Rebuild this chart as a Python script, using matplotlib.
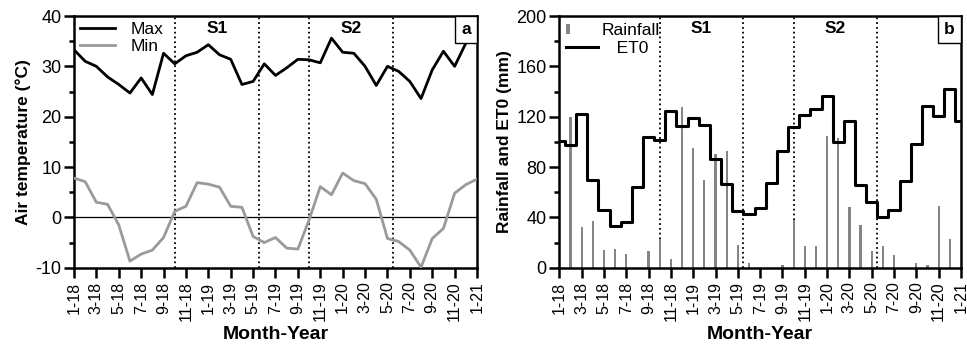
import matplotlib
matplotlib.use('Agg')
import matplotlib.pyplot as plt
import numpy as np
from matplotlib.ticker import MultipleLocator
from matplotlib.offsetbox import AnchoredText
from matplotlib.legend_handler import HandlerBase
from matplotlib.patches import Rectangle
from matplotlib.lines import Line2D

plt.rcParams['font.family'] = ['Liberation Sans', 'DejaVu Sans']
plt.rcParams['axes.unicode_minus'] = False

# month index 0 = Jan 2018 ... 36 = Jan 2021
MONTHS = np.arange(37)
TICK_POS = np.arange(0, 37, 2)
TICK_LABELS = ['1-18', '3-18', '5-18', '7-18', '9-18', '11-18',
               '1-19', '3-19', '5-19', '7-19', '9-19', '11-19',
               '1-20', '3-20', '5-20', '7-20', '9-20', '11-20', '1-21']

T_MAX = [33.3, 31.0, 30.0, 27.9, 26.4, 24.7, 27.7, 24.4, 32.6, 30.5,
         32.1, 32.8, 34.3, 32.3, 31.4, 26.4, 27.0, 30.5, 28.2, 29.7,
         31.4, 31.3, 30.7, 35.6, 32.8, 32.6, 30.0, 26.2, 30.0, 29.0,
         27.0, 23.6, 29.3, 33.0, 30.0, 34.6, 36.0]
T_MIN = [7.8, 7.1, 3.0, 2.6, -1.5, -8.7, -7.3, -6.5, -4.0, 1.2,
         2.2, 6.9, 6.6, 6.0, 2.2, 2.0, -3.8, -5.0, -4.0, -6.1,
         -6.3, -0.5, 6.1, 4.5, 8.8, 7.3, 6.7, 3.6, -4.2, -4.8,
         -6.5, -9.9, -4.2, -2.2, 4.8, 6.5, 7.6]

ET0 = [101.0, 97.5, 122.0, 70.0, 45.5, 33.0, 36.2, 64.0, 104.0, 101.3,
       124.7, 112.7, 118.6, 113.3, 86.2, 66.7, 44.7, 42.9, 47.4, 67.3,
       92.6, 112.0, 121.2, 126.5, 136.6, 100.0, 116.7, 66.0, 52.1, 40.2,
       46.0, 68.9, 98.1, 128.4, 120.7, 142.4, 116.7]
RAINFALL = [0.0, 120.0, 32.4, 36.9, 13.8, 14.6, 11.1, 0.0, 13.0, 23.1,
            6.6, 128.0, 95.0, 70.0, 90.0, 93.0, 17.8, 3.4, 0.0, 0.0,
            1.9, 38.2, 17.0, 17.0, 105.0, 103.0, 48.3, 33.7, 13.0, 17.0,
            9.8, 0.0, 3.4, 1.9, 48.8, 22.5, 0.0]

SEASON_EDGES = [9, 16.5, 21, 28.5]
SEASON_NAMES = ['S1', 'S2']
SEASON_CENTERS = [12.75, 24.75]

GRAY_LINE = '#9a9a9a'
GRAY_BAR = '#858585'


class BarHandle(HandlerBase):
    def create_artists(self, legend, orig_handle, xdescent, ydescent,
                       width, height, fontsize, trans):
        r = Rectangle((-xdescent, -ydescent + 0.1 * height), 0.13 * width, 0.8 * height,
                      facecolor=GRAY_BAR, edgecolor='none', transform=trans)
        return [r]


def style_axes(ax, ymin, ymax, major, minor):
    ax.set_xlim(0, 36)
    ax.set_ylim(ymin, ymax)
    ax.set_xticks(TICK_POS)
    ax.set_xticklabels(TICK_LABELS, rotation=90)
    ax.yaxis.set_major_locator(MultipleLocator(major))
    ax.yaxis.set_minor_locator(MultipleLocator(minor))
    ax.tick_params(which='major', direction='out', length=7, width=1.8, labelsize=13, pad=2)
    ax.tick_params(axis='x', which='major', labelsize=11.5, pad=3)
    ax.tick_params(which='minor', direction='out', length=3.5, width=1.8)
    for s in ax.spines.values():
        s.set_linewidth(1.8)
    for x in SEASON_EDGES:
        ax.axvline(x, color='black', linestyle=':', linewidth=1.3, zorder=1)
    for x, name in zip(SEASON_CENTERS, SEASON_NAMES):
        ax.text(x, 0.95, name, transform=ax.get_xaxis_transform(), ha='center', va='center',
                fontsize=12.5, fontweight='bold')
    ax.set_xlabel('Month-Year', fontsize=14, fontweight='bold', labelpad=3)


def panel_tag(ax, letter):
    at = AnchoredText(letter, loc='upper right', borderpad=0, pad=0.35,
                      prop=dict(fontsize=12.5, fontweight='bold'))
    at.patch.set_linewidth(1.0)
    at.zorder = 5
    ax.add_artist(at)


fig = plt.figure(figsize=(9.67, 3.48), dpi=100)
ax1 = fig.add_axes([0.0765, 0.2307, 0.4168, 0.7233])
ax2 = fig.add_axes([0.5784, 0.2307, 0.4154, 0.7233])

# (a) air temperature
style_axes(ax1, -10, 40, 10, 5)
ax1.axhline(0, color='black', linewidth=0.9, zorder=1)
ax1.plot(MONTHS, T_MAX, color='black', linewidth=2.0, label='Max', zorder=3)
ax1.plot(MONTHS, T_MIN, color=GRAY_LINE, linewidth=2.0, label='Min', zorder=3)
ax1.set_ylabel('Air temperature (°C)', fontsize=12.5, fontweight='bold', labelpad=3)
ax1.legend(loc='upper left', frameon=False, fontsize=12.5, handlelength=2.0,
           handletextpad=0.9, labelspacing=0.1, borderaxespad=0.1, borderpad=0.25)
panel_tag(ax1, 'a')

# (b) rainfall and ET0
style_axes(ax2, 0, 200, 40, 20)
ax2.bar(MONTHS, RAINFALL, width=0.2, color=GRAY_BAR, zorder=2)
ax2.step(MONTHS, ET0, where='mid', color='black', linewidth=2.2, zorder=3)
ax2.set_ylabel('Rainfall and ET0 (mm)', fontsize=12.5, fontweight='bold', labelpad=3)
handles = [Rectangle((0, 0), 1, 1), Line2D([], [], color='black', linewidth=2.2)]
ax2.legend(handles, ['Rainfall', '   ET0'], handler_map={Rectangle: BarHandle()},
           loc='upper left', frameon=False, fontsize=12.5, handlelength=1.8,
           handletextpad=0.25, labelspacing=0.15, borderaxespad=0.1, borderpad=0.3)
panel_tag(ax2, 'b')

fig.savefig('out.png', dpi=100)
